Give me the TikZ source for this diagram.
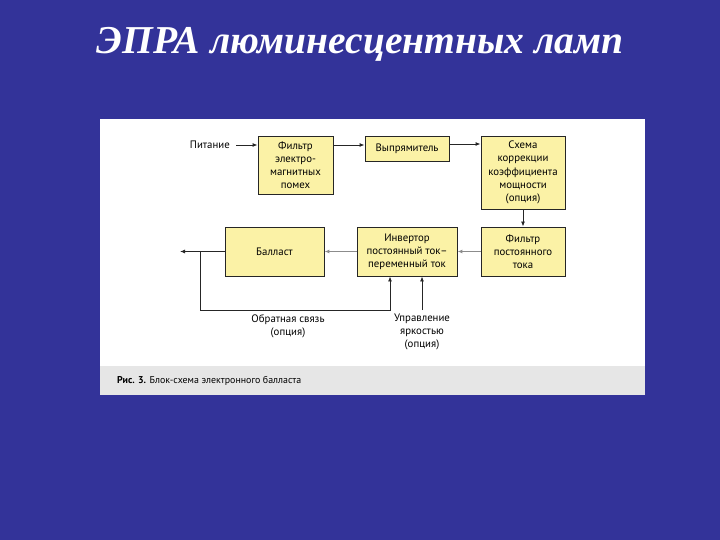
\documentclass[tikz,border=0pt]{standalone}
\usepackage{fontspec}
\setmainfont{Liberation Serif}
\newfontfamily\diagfont{PT Sans}
\usepackage{xcolor}
\usetikzlibrary{positioning,arrows.meta}

\definecolor{slideblue}{HTML}{333399}
\definecolor{boxyellow}{HTML}{FBF2A6}
\definecolor{capgrey}{HTML}{E6E6E6}

\begin{document}
\begin{tikzpicture}[x=1pt, y=-1pt,
  block/.style={rectangle, draw=black!85, line width=0.9pt, fill=boxyellow, align=center, font=\diagfont\fontsize{10.8}{13.2}\selectfont, inner sep=2pt},
  lbl/.style={align=center, font=\diagfont\fontsize{10.8}{13.2}\selectfont, inner sep=1pt},
  arrow/.style={-{Latex[length=5pt,width=4pt]}, line width=0.9pt, black!85},
  greyarrow/.style={-{Latex[length=5pt,width=4pt]}, line width=1.2pt, black!45},
  wire/.style={line width=0.9pt, black!85}
]
  % Background
  \fill[slideblue] (0,0) rectangle (720,540);
  \useasboundingbox (0,0) rectangle (720,540);
  \fill[white] (100,119) rectangle (645,366);
  \fill[capgrey] (100,366) rectangle (645,395);

  % Title
  \node[text=white, font=\bfseries\itshape\fontsize{39.5}{42}\selectfont] (title) at (360,44) {ЭПРА люминесцентных ламп};

  % Blocks
  \node[block, minimum width=75pt, minimum height=58pt] (emi) at (295.5,165) {Фильтр\\электро-\\магнитных\\помех};
  \node[block, minimum width=84pt, minimum height=25pt] (rect) at (407,148.5) {Выпрямитель};
  \node[block, minimum width=84pt, minimum height=73pt] (pfc) at (523,172.5) {Схема\\коррекции\\коэффициента\\мощности\\(опция)};
  \node[block, minimum width=84pt, minimum height=49pt] (dcf) at (523,251.5) {Фильтр\\постоянного\\тока};
  \node[block, minimum width=100pt, minimum height=49pt] (inv) at (407,251.5) {Инвертор\\постоянный ток–\\переменный ток};
  \node[block, minimum width=99pt, minimum height=49pt] (ball) at (274.5,251.5) {Балласт};

  % Labels
  \node[lbl, anchor=east] (power) at (231,145) {Питание};
  \node[lbl] (fb) at (288,326) {Обратная связь\\(опция)};
  \node[lbl] (dim) at (422,332) {Управление\\яркостью\\(опция)};
  \node[anchor=west, font=\diagfont\fontsize{9.9}{12}\selectfont, inner sep=0pt] (cap) at (117,381) {\textbf{Рис. 3.} Блок-схема электронного балласта};

  \coordinate (out) at (180,251.5);
  \coordinate (tap) at (200,251.5);
  \coordinate (fbbot) at (200,310);
  \coordinate (dimtop) at (422,310);

  % Arrows
  \draw[arrow] (power.east) ++(5,0) -- (emi.west |- 0,145);
  \draw[arrow] (emi.east |- 0,145) -- (rect.west |- 0,145);
  \draw[arrow] (rect.east |- 0,144) -- (pfc.west |- 0,144);
  \draw[arrow] (pfc) -- (dcf);
  \draw[greyarrow] (dcf) -- (inv);
  \draw[greyarrow] (inv) -- (ball);
  \draw[arrow] (ball) -- (out);
  \draw[wire, -{Latex[length=5pt,width=4pt]}] (tap) -- (fbbot) -| (inv.south -| 390,0);
  \draw[arrow] (dimtop) -- (inv.south -| dimtop);
\end{tikzpicture}
\end{document}
